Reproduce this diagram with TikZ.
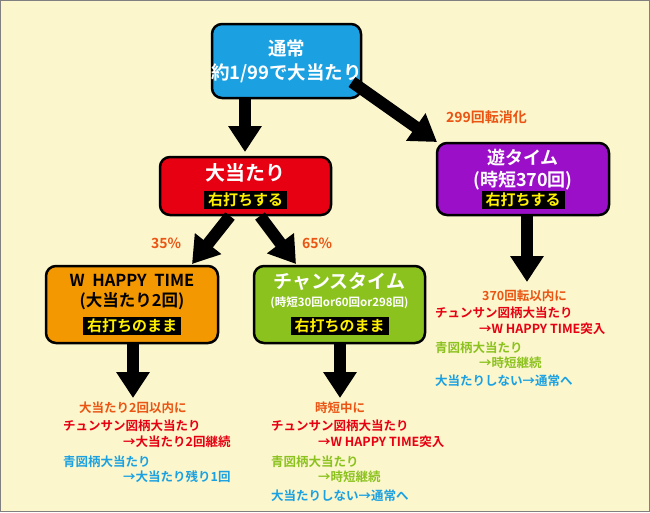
\documentclass[tikz,border=0pt]{standalone}
\usepackage{fontspec}
\setmainfont{Noto Sans CJK JP}[BoldFont={Noto Sans CJK JP Bold}]
\usetikzlibrary{arrows.meta}
\definecolor{bg}{HTML}{FBF6CC}
\definecolor{cblue}{HTML}{1BA1E2}
\definecolor{cred}{HTML}{E60012}
\definecolor{cpur}{HTML}{9B0FC8}
\definecolor{corg}{HTML}{F39800}
\definecolor{cgrn}{HTML}{8CC21E}
\definecolor{tor}{HTML}{EA5514}
\definecolor{tred}{HTML}{E60012}
\definecolor{tgrn}{HTML}{8CC21E}
\definecolor{tblu}{HTML}{1BA1E2}
\definecolor{tyel}{HTML}{FFF000}
\begin{document}
\begin{tikzpicture}[x=1pt,y=-1pt,font=\bfseries,
 box/.style={draw=black,line width=2.5pt,rounded corners=10pt},
 tag/.style={fill=black,text=tyel,font=\bfseries\fontsize{15}{16}\selectfont,inner xsep=4pt,inner ysep=1.5pt},
 big/.style={-{Triangle[width=32pt,length=26pt]},line width=12pt},
 lab/.style={font=\bfseries\fontsize{12.5}{14}\selectfont,anchor=west,inner sep=0pt},
 pct/.style={font=\bfseries\fontsize{14}{16}\selectfont,anchor=west,inner sep=0pt,text=tor}]
\fill[bg,draw=gray,line width=1pt] (0.5,0.5) rectangle (649.5,511.5);
\useasboundingbox (0,0) rectangle (650,512);
% boxes
\draw[box,fill=cblue] (212,24) rectangle (361,98);
\node (n0) at (286.5,61) [align=center,text=white,font=\bfseries\fontsize{18.5}{24}\selectfont] {通常\\約1/99で大当たり};
\draw[box,fill=cred] (160,157) rectangle (331,215);
\node (n1) at (245.5,173) [text=white,font=\bfseries\fontsize{20}{22}\selectfont] {大当たり};
\node (t1) at (245.5,200) [tag] {右打ちする};
\draw[box,fill=cpur] (437,143) rectangle (609,215);
\node (n2) at (523,170) [align=center,text=white,font=\bfseries\fontsize{18}{22}\selectfont] {遊タイム\\(時短370回)};
\node (t2) at (523,200) [tag] {右打ちする};
\draw[box,fill=corg] (46,266) rectangle (218,343);
\node (n3) at (132,292) [align=center,text=black,font=\bfseries\fontsize{16.5}{20}\selectfont] {W\ \ HAPPY\ \ TIME\\(大当たり2回)};
\node (t3) at (132,326) [tag] {右打ちのまま};
\draw[box,fill=cgrn] (254,266) rectangle (425,343);
\node (n4) at (339.5,282) [text=white,font=\bfseries\fontsize{19}{20}\selectfont] {チャンスタイム};
\node (s4) at (339.5,303) [text=white,font=\bfseries\fontsize{11.5}{12}\selectfont] {(時短30回or60回or298回)};
\node (t4) at (339.5,326) [tag] {右打ちのまま};
% arrows
\draw[big] (245,98) -- (245,152);
\draw[big] (352,82) -- (437,142);
\draw[big] (230,216) -- (192,264);
\draw[big] (260,216) -- (296,264);
\draw[big] (527,216) -- (527,282);
\draw[big] (133,344) -- (133,398);
\draw[big] (340,344) -- (340,398);
% labels
\node (p1) [pct] at (446,117) {299回転消化};
\node (p2) [pct] at (151,243) {35\%};
\node (p3) [pct] at (302,243) {65\%};
% right list
\node (r1) [lab,text=tor] at (482,296) {370回転以内に};
\node (r2) [lab,text=tred] at (435,313) {チュンサン図柄大当たり};
\node (r3) [lab,text=tred] at (479,329) {→W\ HAPPY\ TIME突入};
\node (r4) [lab,text=tgrn] at (435,348) {青図柄大当たり};
\node (r5) [lab,text=tgrn] at (479,363) {→時短継続};
\node (r6) [lab,text=tblu] at (435,381) {大当たりしない→通常へ};
% left list
\node (l1) [lab,text=tor] at (79,408) {大当たり2回以内に};
\node (l2) [lab,text=tred] at (63,426) {チュンサン図柄大当たり};
\node (l3) [lab,text=tred] at (123,442) {→大当たり2回継続};
\node (l4) [lab,text=tblu] at (63,462) {青図柄大当たり};
\node (l5) [lab,text=tblu] at (123,477) {→大当たり残り1回};
% middle list
\node (m1) [lab,text=tor] at (315,408) {時短中に};
\node (m2) [lab,text=tred] at (271,426) {チュンサン図柄大当たり};
\node (m3) [lab,text=tred] at (318,442) {→W\ HAPPY\ TIME突入};
\node (m4) [lab,text=tgrn] at (271,462) {青図柄大当たり};
\node (m5) [lab,text=tgrn] at (318,477) {→時短継続};
\node (m6) [lab,text=tblu] at (271,496) {大当たりしない→通常へ};
\end{tikzpicture}
\end{document}
